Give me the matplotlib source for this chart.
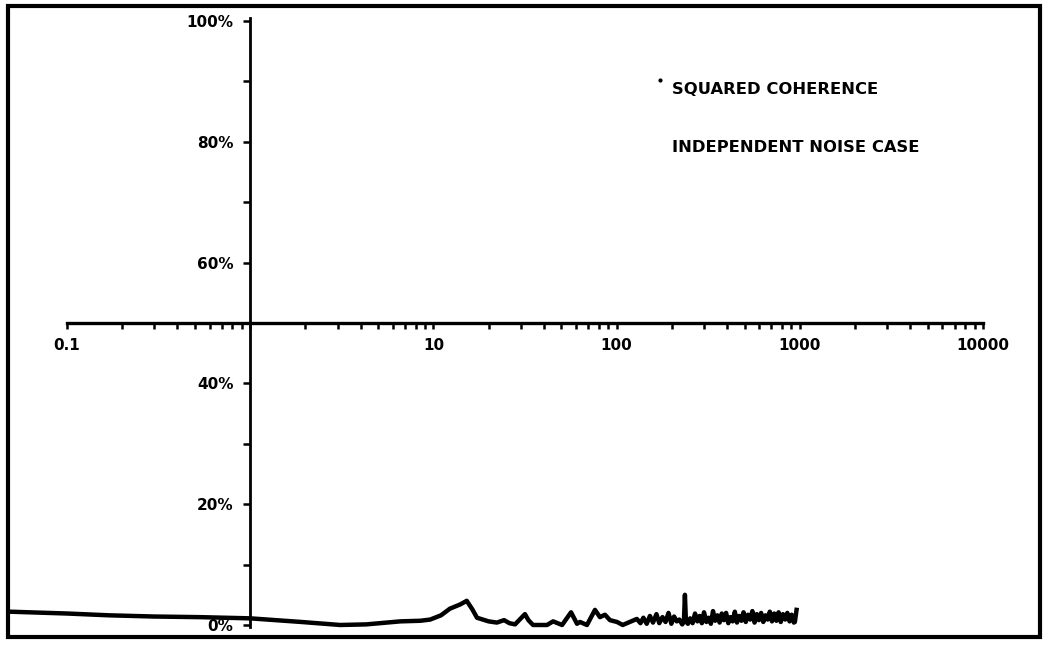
import matplotlib
matplotlib.use("Agg")
import matplotlib.pyplot as plt
from matplotlib.patches import Rectangle
from matplotlib.ticker import FixedLocator, NullFormatter

# squared coherence (percent) against frequency, independent noise case
freq = [0.049, 0.1, 0.17, 0.3, 0.53, 1.0, 1.9, 3.1, 4.3, 6.6, 8.5, 9.6,
        11, 12.3, 14, 15.2, 16.3, 17.3, 20, 22.2, 24.3, 26, 27.9, 31.6,
        33, 35, 41.7, 45, 50.4, 56.4, 60.8, 63.1, 68.9, 76.2, 81.1, 86.4,
        92.0, 100.5, 108, 118, 129, 135, 140, 146, 152, 158, 165, 171,
        178, 185, 192, 199, 206, 213, 220, 228, 233, 236, 239, 245, 252,
        260, 268, 276, 284, 292, 300, 309, 318, 327, 336, 345, 355, 365,
        375, 385, 396, 407, 418, 430, 442, 454, 467, 480, 493, 507, 521,
        536, 551, 566, 582, 598, 615, 632, 650, 668, 686, 705, 725, 745,
        766, 787, 809, 832, 855, 879, 903, 928, 940, 960]
coherence = [2.2, 1.9, 1.6, 1.4, 1.3, 1.1, 0.5, 0.0, 0.1, 0.6, 0.7, 0.9,
             1.6, 2.7, 3.4, 4.0, 2.6, 1.2, 0.6, 0.4, 0.8, 0.3, 0.1, 1.8,
             0.8, 0.0, 0.0, 0.6, 0.0, 2.1, 0.2, 0.5, 0.0, 2.5, 1.3, 1.7,
             0.8, 0.5, 0.0, 0.5, 1.0, 0.3, 1.2, 0.2, 1.5, 0.4, 1.8, 0.3,
             1.3, 0.5, 2.0, 0.2, 1.4, 0.6, 0.9, 0.1, 0.5, 5.0, 0.6, 0.2, 1.1,
             0.3, 1.9, 0.6, 1.5, 0.3, 2.1, 0.5, 1.2, 0.2, 2.3, 0.7, 1.6, 0.4,
             1.9, 0.8, 2.0, 0.3, 1.3, 0.6, 2.2, 0.4, 1.5, 0.7, 2.1, 0.5, 1.7,
             0.9, 2.3, 0.4, 1.8, 0.8, 2.0, 0.5, 1.6, 0.9, 2.2, 0.6, 1.9, 0.7,
             2.1, 0.5, 1.8, 0.9, 2.0, 0.6, 1.7, 0.4, 0.5, 2.5]

y_ticks = [0, 20, 40, 60, 80, 100]
y_minor = [10, 30, 50, 70, 90]
y_labels = ["0%", "20%", "40%", "60%", "80%", "100%"]
x_ticks = [0.1, 1, 10, 100, 1000, 10000]
x_labels = ["0.1", "", "10", "100", "1000", "10000"]

fig = plt.figure(figsize=(10.46, 6.48), dpi=100)
ax = fig.add_axes([0, 0, 1, 1])
ax.set_xscale("log")
ax.set_xlim(0.04306, 22080)
ax.set_ylim(-3.81, 103.48)

ax.plot(freq, coherence, color="black", lw=3.2, solid_joinstyle="round")

# axes cross at 1 Hz / 50 %
for s in ["top", "right"]:
    ax.spines[s].set_visible(False)
ax.spines["left"].set_position(("data", 1))
ax.spines["left"].set_bounds(-0.4, 100.5)
ax.spines["bottom"].set_position(("data", 50))
ax.spines["bottom"].set_bounds(0.1, 10000)
ax.spines["left"].set_linewidth(2.0)
ax.spines["bottom"].set_linewidth(2.4)

ax.yaxis.set_major_locator(FixedLocator(y_ticks))
ax.yaxis.set_minor_locator(FixedLocator(y_minor))
ax.set_yticklabels(y_labels, fontsize=11, fontweight="bold")
ax.tick_params(axis="y", which="both", direction="out", length=5, width=1.8, pad=7)

# 2..9 minor ticks inside each decade of the drawn axis
x_minor = [m * 10.0 ** e for e in range(-1, 4) for m in range(2, 10)]
ax.xaxis.set_major_locator(FixedLocator(x_ticks))
ax.xaxis.set_minor_locator(FixedLocator(x_minor))
ax.xaxis.set_minor_formatter(NullFormatter())
ax.set_xticklabels(x_labels, fontsize=11, fontweight="bold")
ax.tick_params(axis="x", which="both", direction="out", length=4, width=1.8, pad=7)

ax.patch.set_visible(False)

fig.text(672 / 1046, 1 - 89 / 648, "SQUARED COHERENCE", fontsize=11.8,
         fontweight="bold", va="center", ha="left")
fig.text(672 / 1046, 1 - 148 / 648, "INDEPENDENT NOISE CASE", fontsize=11.8,
         fontweight="bold", va="center", ha="left")
fig.lines.append(plt.Line2D([660 / 1046], [1 - 80 / 648], marker="o", ms=2,
                            color="black", transform=fig.transFigure))

# frame round the whole sheet
fig.patches.append(Rectangle((8 / 1046, 11 / 648), 1032 / 1046, 631 / 648,
                             fill=False, lw=3, edgecolor="black",
                             transform=fig.transFigure))

fig.savefig("out.png", dpi=100)
